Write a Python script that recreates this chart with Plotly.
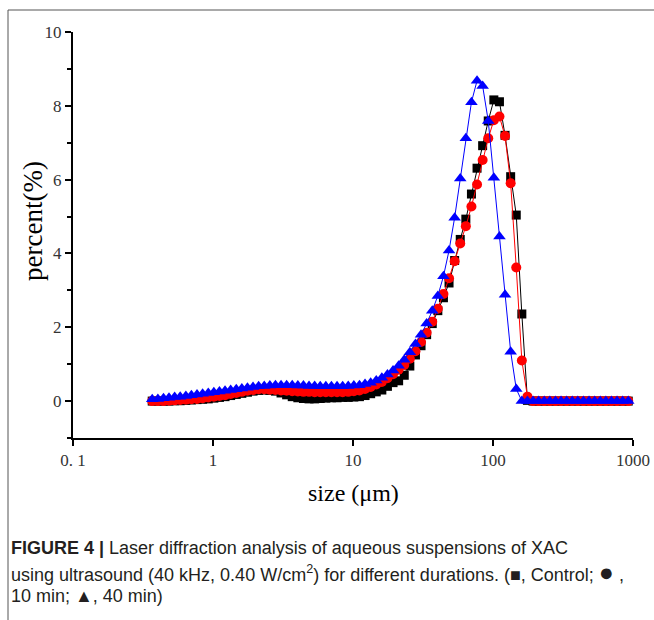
import plotly.graph_objects as go

size_um = [0.368, 0.404, 0.443, 0.485, 0.532, 0.583, 0.640, 0.701, 0.769, 0.843,
           0.925, 1.014, 1.112, 1.219, 1.337, 1.466, 1.607, 1.762, 1.932, 2.118,
           2.323, 2.547, 2.793, 3.062, 3.357, 3.681, 4.036, 4.426, 4.853, 5.321,
           5.834, 6.397, 7.015, 7.691, 8.433, 9.247, 10.14, 11.12, 12.19, 13.37,
           14.66, 16.07, 17.62, 19.32, 21.18, 23.23, 25.47, 27.93, 30.62, 33.57,
           36.81, 40.36, 44.26, 48.53, 53.21, 58.34, 63.97, 70.15, 76.91, 84.33,
           92.47, 101.4, 111.2, 121.9, 133.7, 146.6, 160.7, 176.2, 193.2, 211.8,
           232.3, 254.7, 279.3, 306.2, 335.7, 368.1, 403.6, 442.6, 485.3, 532.1,
           583.4, 639.7, 701.5, 769.1, 843.3, 924.7, 1014, 1112]

control = [0.0, 0.0, 0.0, 0.0, 0.01, 0.01, 0.02, 0.03, 0.04, 0.05,
           0.06, 0.08, 0.10, 0.12, 0.15, 0.18, 0.21, 0.24, 0.27, 0.29,
           0.30, 0.29, 0.27, 0.22, 0.17, 0.12, 0.09, 0.07, 0.06, 0.06,
           0.07, 0.08, 0.09, 0.09, 0.10, 0.10, 0.11, 0.12, 0.15, 0.20,
           0.25, 0.30, 0.40, 0.50, 0.55, 0.70, 0.95, 1.25, 1.50, 1.80,
           2.10, 2.45, 2.80, 3.20, 3.81, 4.38, 4.93, 5.61, 6.31, 6.92,
           7.59, 8.16, 8.11, 7.20, 6.08, 5.04, 2.36, 0.02, 0.0, 0.0,
           0.0, 0.0, 0.0, 0.0, 0.0, 0.0, 0.0, 0.0, 0.0, 0.0,
           0.0, 0.0, 0.0, 0.0, 0.0, 0.0, 0.0, 0.0]

min10 = [0.0, 0.0, 0.0, 0.01, 0.02, 0.03, 0.04, 0.05, 0.06, 0.08,
         0.10, 0.12, 0.14, 0.16, 0.19, 0.22, 0.25, 0.28, 0.30, 0.32,
         0.32, 0.31, 0.30, 0.29, 0.28, 0.27, 0.26, 0.25, 0.25, 0.24,
         0.24, 0.24, 0.24, 0.24, 0.24, 0.25, 0.27, 0.29, 0.33, 0.38,
         0.45, 0.52, 0.62, 0.73, 0.85, 0.98, 1.15, 1.35, 1.60, 1.85,
         2.15, 2.50, 2.90, 3.33, 3.79, 4.27, 4.74, 5.27, 5.87, 6.53,
         7.12, 7.61, 7.71, 7.18, 5.90, 3.62, 1.10, 0.12, 0.0, 0.0,
         0.0, 0.0, 0.0, 0.0, 0.0, 0.0, 0.0, 0.0, 0.0, 0.0,
         0.0, 0.0, 0.0, 0.0, 0.0, 0.0, 0.0, 0.0]

min40 = [0.05, 0.06, 0.08, 0.09, 0.11, 0.12, 0.14, 0.16, 0.18, 0.20,
         0.22, 0.24, 0.26, 0.28, 0.30, 0.32, 0.34, 0.36, 0.38, 0.40,
         0.41, 0.42, 0.43, 0.43, 0.43, 0.43, 0.42, 0.42, 0.41, 0.41,
         0.40, 0.40, 0.40, 0.40, 0.40, 0.41, 0.42, 0.43, 0.46, 0.50,
         0.56, 0.63, 0.72, 0.83, 0.96, 1.12, 1.32, 1.55, 1.80, 2.10,
         2.45, 2.85, 3.38, 4.08, 4.97, 6.03, 7.12, 8.10, 8.68, 8.54,
         7.59, 6.05, 4.46, 2.88, 1.34, 0.33, 0.0, 0.0, 0.0, 0.0,
         0.0, 0.0, 0.0, 0.0, 0.0, 0.0, 0.0, 0.0, 0.0, 0.0,
         0.0, 0.0, 0.0, 0.0, 0.0, 0.0, 0.0, 0.0]

x_tickvals = [0.1, 1, 10, 100, 1000]
x_ticktext = ["0. 1", "1", "10", "100", "1000"]
y_tickvals = [0, 2, 4, 6, 8, 10]

serif = "Liberation Serif, Times New Roman, serif"
sans = "Liberation Sans, Arial, sans-serif"

fig = go.Figure()
series = [
    ("Control", control, "black", "square", 9),
    ("10 min", min10, "red", "circle", 10),
    ("40 min", min40, "blue", "triangle-up", 11),
]
for name, ys, col, sym, sz in series:
    fig.add_trace(go.Scatter(
        x=size_um, y=ys, mode="lines+markers", name=name,
        line=dict(color=col, width=1),
        marker=dict(color=col, symbol=sym, size=sz, line=dict(width=0)),
        cliponaxis=False,
    ))

W, H = 654, 620
L_, T_ = 73, 32
R_ = 21
B_ = H - 438
pw, ph = W - L_ - R_, H - T_ - B_


def px2paper(px, py):
    return (px - L_) / pw, (H - B_ - py) / ph


fig.update_layout(
    width=W, height=H, autosize=False,
    margin=dict(l=L_, r=R_, t=T_, b=B_, pad=0, autoexpand=False),
    paper_bgcolor="white", plot_bgcolor="white",
    showlegend=False,
    xaxis=dict(
        type="log", range=[-1, 3.0], showgrid=False, zeroline=False,
        showline=True, linecolor="black", linewidth=2,
        ticks="outside", ticklen=6, tickwidth=1.5, tickcolor="black",
        tickvals=x_tickvals, ticktext=x_ticktext,
        tickfont=dict(family=serif, size=17, color="#333"),
        ticklabeloverflow="allow", automargin=False,
    ),
    yaxis=dict(
        range=[-1, 10], showgrid=False, zeroline=False,
        showline=True, linecolor="black", linewidth=2,
        ticks="outside", ticklen=6, tickwidth=1.5, tickcolor="black",
        tickvals=y_tickvals, automargin=False,
        minor=dict(ticks="outside", ticklen=4, tickwidth=1.5, tickcolor="black", dtick=1),
        tickfont=dict(family=serif, size=17, color="#333"),
    ),
)

# frame lines of the page (top and left)
x0, y0 = px2paper(8, 10)
x1, _ = px2paper(654, 10)
_, yb = px2paper(8, 620)
fig.add_shape(type="line", xref="paper", yref="paper", x0=x0, y0=y0, x1=x1, y1=y0,
              line=dict(color="#555", width=1))
fig.add_shape(type="line", xref="paper", yref="paper", x0=x0, y0=y0, x1=x0, y1=yb,
              line=dict(color="#555", width=1))

ax, ay = px2paper(353, 493)
fig.add_annotation(text="size (μm)", xref="paper", yref="paper", x=ax, y=ay,
                   xanchor="center", yanchor="middle", showarrow=False,
                   font=dict(family=serif, size=24, color="black"))
ax, ay = px2paper(33, 221)
fig.add_annotation(text="percent(%)", xref="paper", yref="paper", x=ax, y=ay,
                   xanchor="center", yanchor="middle", showarrow=False, textangle=-90,
                   font=dict(family=serif, size=27, color="black"))

caption = [
    "<b>FIGURE 4 |</b> Laser diffraction analysis of aqueous suspensions of XAC",
    "using ultrasound (40 kHz, 0.40 W/cm<sup>2</sup>) for different durations. (■, Control; "
    "<span style='font-size:25px'>●</span> ,",
    "10 min; ▲, 40 min)",
]
for k, line in enumerate(caption):
    cx, cy = px2paper(9, 548 + 24 * k)
    fig.add_annotation(text=line, xref="paper", yref="paper", x=cx, y=cy,
                       xanchor="left", yanchor="middle", showarrow=False, align="left",
                       font=dict(family=sans, size=18, color="#231f20"))

fig.write_html("out.html", config={"displayModeBar": False},
               post_script="document.body.style.margin='0';"
               "document.body.style.overflow='hidden';")
